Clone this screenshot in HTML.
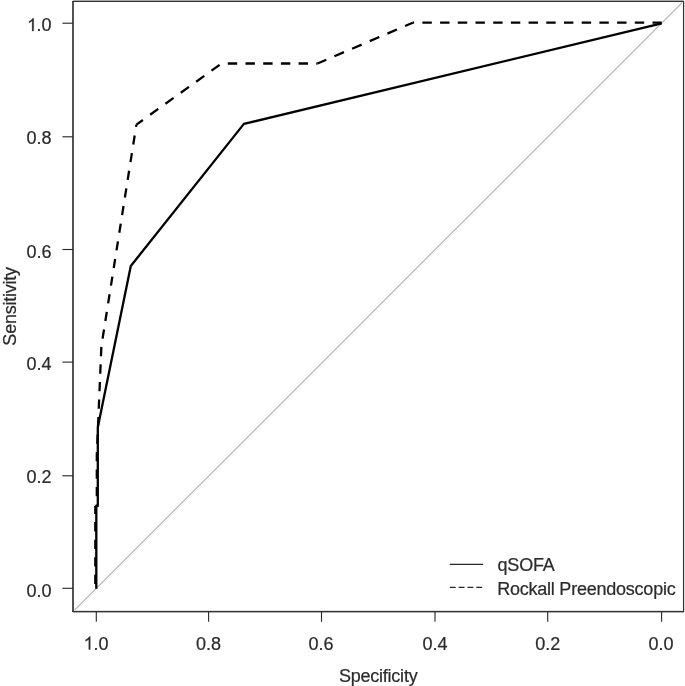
<!DOCTYPE html>
<html>
<head>
<meta charset="utf-8">
<title>ROC curves</title>
<style>
  html, body { margin: 0; padding: 0; background: #ffffff; }
  body { width: 685px; height: 686px; overflow: hidden; position: relative; }
  svg { position: absolute; left: 0; top: 0; display: block; will-change: transform; opacity: 0.9999; }
  text { font-family: "Liberation Sans", sans-serif; font-size: 18px; fill: #2b2b2b; stroke: #2b2b2b; stroke-width: 0.22px; }
  text.w { letter-spacing: -0.23px; }
</style>
</head>
<body>
<svg width="685" height="686" viewBox="0 0 685 686">
  <rect x="0" y="0" width="685" height="686" fill="#ffffff"/>

  <!-- identity (diagonal) line -->
  <line x1="73.3" y1="611.4" x2="683.4" y2="1.3" stroke="#adadad" stroke-width="1.05"/>

  <!-- plot box: pixel-aligned strips reproduce the softly resampled 1px frame -->
  <g shape-rendering="crispEdges">
    <rect x="73"  y="0"   width="610" height="1"   fill="#a9a9a9"/>
    <rect x="683" y="0"   width="1"   height="1"   fill="#c6c6c6"/>
    <rect x="74"  y="610" width="609" height="1"   fill="#e2e2e2"/>
    <rect x="73"  y="612" width="611" height="1"   fill="#b0b0b0"/>
    <rect x="684" y="1"   width="1"   height="611" fill="#d9d9d9"/>
    <rect x="682" y="2"   width="1"   height="609" fill="#f4f4f4"/>
    <rect x="72"  y="1"   width="2"   height="611" fill="#525252"/>
    <rect x="72"  y="1"   width="612" height="1"   fill="#333333"/>
    <rect x="683" y="1"   width="1"   height="611" fill="#333333"/>
    <rect x="72"  y="611" width="612" height="1"   fill="#333333"/>
  </g>

  <!-- y ticks -->
  <g stroke="#262626" stroke-width="1.1">
    <line x1="62.4" y1="23.2"  x2="73.0" y2="23.2"/>
    <line x1="62.4" y1="136.8" x2="73.0" y2="136.8"/>
    <line x1="62.4" y1="249.5" x2="73.0" y2="249.5"/>
    <line x1="62.4" y1="362.1" x2="73.0" y2="362.1"/>
    <line x1="62.4" y1="475.8" x2="73.0" y2="475.8"/>
    <line x1="62.4" y1="588.3" x2="73.0" y2="588.3"/>
  </g>
  <!-- x ticks -->
  <g stroke="#262626" stroke-width="1.1">
    <line x1="96.3"  y1="611.6" x2="96.3"  y2="621.8"/>
    <line x1="208.6" y1="611.6" x2="208.6" y2="621.8"/>
    <line x1="321.5" y1="611.6" x2="321.5" y2="621.8"/>
    <line x1="435.0" y1="611.6" x2="435.0" y2="621.8"/>
    <line x1="547.7" y1="611.6" x2="547.7" y2="621.8"/>
    <line x1="661.6" y1="611.6" x2="661.6" y2="621.8"/>
  </g>

  <!-- y tick labels -->
  <g text-anchor="end">
    <path d="M763 0H583V1147Q518 1085 412.5 1023T223 930V1104Q374 1175 487 1276T647 1472H763Z" transform="translate(27.0,31.1) scale(0.0087890625,-0.0087890625)" fill="#2b2b2b" stroke="#2b2b2b" stroke-width="25"/>
    <text x="51.6" y="31.1">.0</text>
    <text x="51.6" y="143.6">0.8</text>
    <text x="51.6" y="257.6">0.6</text>
    <text x="51.6" y="370.2">0.4</text>
    <text x="51.6" y="482.6">0.2</text>
    <text x="51.6" y="596.8">0.0</text>
  </g>
  <!-- x tick labels -->
  <g text-anchor="middle">
    <path d="M763 0H583V1147Q518 1085 412.5 1023T223 930V1104Q374 1175 487 1276T647 1472H763Z" transform="translate(83.6,649.5) scale(0.0087890625,-0.0087890625)" fill="#2b2b2b" stroke="#2b2b2b" stroke-width="25"/>
    <text x="93.4" y="649.5" text-anchor="start">.0</text>
    <text x="208.4" y="649.5">0.8</text>
    <text x="321.0" y="649.5">0.6</text>
    <text x="435.0" y="649.5">0.4</text>
    <text x="547.7" y="649.5">0.2</text>
    <text x="661.0" y="649.5">0.0</text>
  </g>

  <!-- axis titles -->
  <text class="w" x="378.2" y="682.1" text-anchor="middle">Specificity</text>
  <text class="w" transform="translate(16.1,306.4) rotate(-90)" text-anchor="middle">Sensitivity</text>

  <!-- Rockall Preendoscopic (dashed) : each segment carries its own dash phase -->
  <g fill="none" stroke="#000000" stroke-width="2.3" stroke-linecap="butt" stroke-linejoin="round">
    <line x1="95.3" y1="588.3" x2="95.3" y2="506" stroke-dasharray="9.3 8.23" stroke-dashoffset="13.23"/>
    <polyline points="96.8,506 96.8,455 101.4,346" stroke-dasharray="9.3 8.23" stroke-dashoffset="7.88"/>
    <line x1="101.4" y1="346"   x2="136.4" y2="124.6" stroke-dasharray="9.2 8.66"  stroke-dashoffset="10.37"/>
    <line x1="136.4" y1="124.6" x2="221.5" y2="63.5"  stroke-dasharray="10.0 8.9"  stroke-dashoffset="2.03"/>
    <line x1="221.5" y1="63.5"  x2="317.5" y2="63.5"  stroke-dasharray="9.4 8.3"   stroke-dashoffset="11.4"/>
    <line x1="317.5" y1="63.5"  x2="412.8" y2="22.7"  stroke-dasharray="10.4 8.81" stroke-dashoffset="0.8"/>
    <line x1="412.8" y1="22.7"  x2="661.7" y2="22.7"  stroke-dasharray="9.4 8.3"   stroke-dashoffset="8.1"/>
  </g>

  <!-- qSOFA (solid) -->
  <polyline fill="none" stroke="#000000" stroke-width="2.3" stroke-linejoin="round" stroke-linecap="butt"
            points="96.3,588.7 96.3,506 97.8,506 97.8,427.3 130.8,266.0 243.9,123.9 661.7,23.3"/>

  <!-- legend -->
  <line x1="449.8" y1="564.25" x2="483.1" y2="564.25" stroke="#262626" stroke-width="1.25"/>
  <line x1="449.8" y1="587.45" x2="483.1" y2="587.45" stroke="#262626" stroke-width="1.25" stroke-dasharray="5.9 2.93"/>
  <text class="w" x="497.6" y="571.3">qSOFA</text>
  <text class="w" x="497.2" y="595.4">Rockall Preendoscopic</text>
</svg>
</body>
</html>
